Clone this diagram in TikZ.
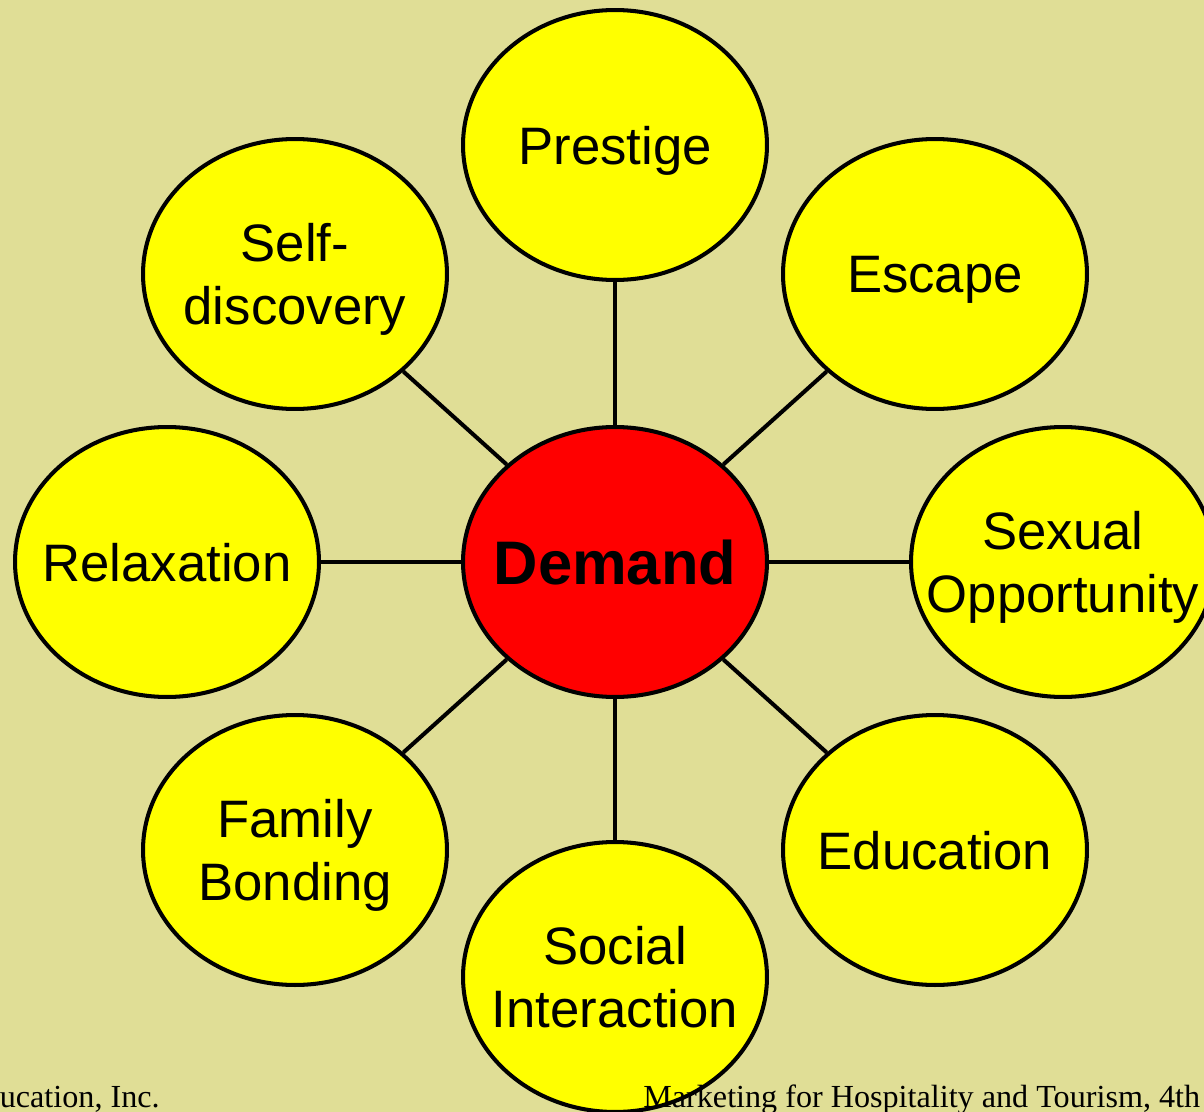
\documentclass[tikz,border=0pt]{standalone}
\usepackage{xcolor}
\usepackage{fontspec}
\setmainfont{Liberation Serif}
\newfontfamily\arialfont{Liberation Sans}
\usetikzlibrary{shapes,positioning}
\definecolor{khaki}{RGB}{224,222,150}
\definecolor{bubble}{RGB}{255,255,0}
\definecolor{hub}{RGB}{255,0,0}

\begin{document}
\begin{tikzpicture}[
    x=0.02cm, y=-0.02cm,
    motive/.style={ellipse, draw=black, fill=bubble, line width=2.3pt, minimum width=6.08cm, minimum height=5.4cm, inner xsep=-2cm, inner ysep=-1.5cm, text depth=0pt, align=center, font=\arialfont\fontsize{30}{36}\selectfont},
    core/.style={motive, fill=hub, font=\arialfont\bfseries\fontsize{35}{40}\selectfont},
    link/.style={line width=2.3pt},
    credit/.style={inner sep=0pt, font=\fontsize{18.3}{20}\selectfont}
]
    \useasboundingbox (0,0) rectangle (1204,1112);
    \clip (0,0) rectangle (1204,1112);
    \fill[khaki] (0,0) rectangle (1204,1112);

    \node[core] (demand) at (615,562) {Demand};

    \node[motive] (prestige) at (615,145) {Prestige};
    \node[motive] (escape) at (935,274) {Escape};
    \node[motive] (sexual) at (1063,562) {Sexual\\Opportunity};
    \node[motive] (education) at (935,850) {Education};
    \node[motive] (social) at (615,977) {Social\\Interaction};
    \node[motive] (family) at (295,850) {Family\\Bonding};
    \node[motive] (relax) at (167,562) {Relaxation};
    \node[motive] (self) at (295,274) {Self-\\discovery};

    \draw[link] (demand) -- (prestige);
    \draw[link] (demand) -- (escape);
    \draw[link] (demand) -- (sexual);
    \draw[link] (demand) -- (education);
    \draw[link] (demand) -- (social);
    \draw[link] (demand) -- (family);
    \draw[link] (demand) -- (relax);
    \draw[link] (demand) -- (self);

    \node[credit, anchor=base east] (publisher) at (160,1107) {Education, Inc.};
    \node[credit, anchor=base west] (book) at (643,1107) {Marketing for Hospitality and Tourism, 4th};
\end{tikzpicture}
\end{document}
